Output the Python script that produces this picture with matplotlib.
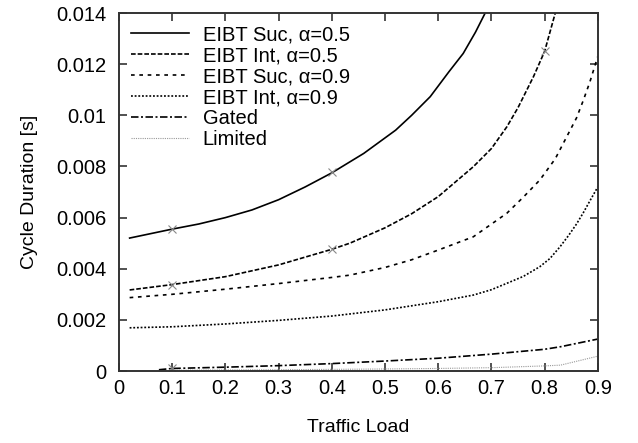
import matplotlib
matplotlib.use("Agg")
from matplotlib import pyplot as plt
import numpy as np

plt.rcParams['font.family'] = ['Liberation Sans', 'DejaVu Sans']

# Data
suc05_x = [0.02, 0.1, 0.15, 0.2, 0.25, 0.3, 0.35, 0.4, 0.46, 0.52, 0.55, 0.585, 0.62, 0.647, 0.67, 0.688, 0.70]
suc05_y = [0.0052, 0.00555, 0.00575, 0.0060, 0.0063, 0.0067, 0.0072, 0.00775, 0.00851, 0.00942, 0.0100,
           0.01073, 0.0117, 0.01242, 0.01325, 0.01399, 0.0146]

int05_x = [0.02, 0.1, 0.2, 0.3, 0.4, 0.434, 0.5, 0.55, 0.6, 0.666, 0.7, 0.729, 0.75, 0.779, 0.80, 0.82, 0.83]
int05_y = [0.00317, 0.00338, 0.00369, 0.00415, 0.00476, 0.0050, 0.0056, 0.00615, 0.00682, 0.00799, 0.0087,
           0.00955, 0.0103, 0.01151, 0.0125, 0.0140, 0.0148]

suc09_x = [0.02, 0.1, 0.2, 0.3, 0.4, 0.434, 0.5, 0.55, 0.6, 0.666, 0.729, 0.76, 0.791, 0.82, 0.8415, 0.86,
           0.873, 0.885, 0.895, 0.9]
suc09_y = [0.00287, 0.0030, 0.0032, 0.00342, 0.00366, 0.00375, 0.00405, 0.00435, 0.00473, 0.00525, 0.00617,
           0.0068, 0.00747, 0.0083, 0.00916, 0.0099, 0.0106, 0.0113, 0.01197, 0.0123]

int09_x = [0.02, 0.1, 0.2, 0.3, 0.4, 0.5, 0.6, 0.666, 0.7, 0.729, 0.76, 0.791, 0.81, 0.829, 0.845, 0.86,
           0.873, 0.885, 0.9]
int09_y = [0.00169, 0.00173, 0.00184, 0.00198, 0.00215, 0.00239, 0.00271, 0.00297, 0.00318, 0.00343, 0.0037,
           0.00408, 0.0044, 0.00486, 0.0053, 0.00575, 0.0062, 0.00665, 0.0072]

gated_x = [0.075, 0.1, 0.2, 0.3, 0.4, 0.5, 0.6, 0.7, 0.8, 0.83, 0.9]
gated_y = [0.00005, 0.0001, 0.00015, 0.00021, 0.00029, 0.00039, 0.0005, 0.00066, 0.00085, 0.00095, 0.00125]

limited_x = [0.1, 0.3, 0.5, 0.6, 0.7, 0.8, 0.83, 0.9]
limited_y = [0.00003, 0.00005, 0.00008, 0.0001, 0.00013, 0.0002, 0.00023, 0.00058]

# simulation points
sim_x = [0.1, 0.4, 0.1, 0.4, 0.8, 0.1]
sim_y = [0.00555, 0.0078, 0.00338, 0.00476, 0.0125, 0.0001]

xticks = [0, 0.1, 0.2, 0.3, 0.4, 0.5, 0.6, 0.7, 0.8, 0.9]
xtick_labels = ['0', '0.1', '0.2', '0.3', '0.4', '0.5', '0.6', '0.7', '0.8', '0.9']
yticks = [0, 0.002, 0.004, 0.006, 0.008, 0.01, 0.012, 0.014]
ytick_labels = ['0', '0.002', '0.004', '0.006', '0.008', '0.01', '0.012', '0.014']

fig = plt.figure(figsize=(6.38, 4.43), dpi=100)
ax = fig.add_axes([0.1865, 0.1625, 0.7505, 0.808])

lw = 1.2
ax.plot(suc05_x, suc05_y, color='black', lw=lw, ls='-', label='EIBT Suc, α=0.5')
ax.plot(int05_x, int05_y, color='black', lw=lw, ls=(0, (2.8, 1.2)), label='EIBT Int, α=0.5')
ax.plot(suc09_x, suc09_y, color='black', lw=lw, ls=(0, (2.2, 2.8)), label='EIBT Suc, α=0.9')
ax.plot(int09_x, int09_y, color='black', lw=lw, ls=(0, (1.1, 1.1)), label='EIBT Int, α=0.9')
ax.plot(gated_x, gated_y, color='black', lw=lw, ls=(0, (4.5, 1.5, 1.2, 1.5)), label='Gated')
ax.plot(limited_x, limited_y, color='#999999', lw=0.8, ls=(0, (1, 1)), label='Limited')
ax.plot(sim_x, sim_y, ls='none', marker='x', ms=6, mew=0.8, color='#888888')

ax.set_xlim(0, 0.9)
ax.set_ylim(0, 0.014)
ax.set_xticks(xticks)
ax.set_xticklabels(xtick_labels)
ax.set_yticks(yticks)
ax.set_yticklabels(ytick_labels)
ax.tick_params(direction='in', length=6, width=1.2, top=True, right=True, labelsize=14.5, pad=6,
               color='#333333')
ax.tick_params(axis='y', pad=9)
for s in ax.spines.values():
    s.set_linewidth(1.4)
    s.set_color('#333333')

ax.set_xlabel('Traffic Load', fontsize=14, labelpad=15)
ax.set_ylabel('Cycle Duration [s]', fontsize=14, labelpad=13)

ax.legend(loc='upper left', frameon=False, fontsize=14.5, handlelength=2.9, handletextpad=0.65,
          labelspacing=0.1, borderaxespad=0.3, borderpad=0.3)

fig.savefig('out.png', dpi=100)
